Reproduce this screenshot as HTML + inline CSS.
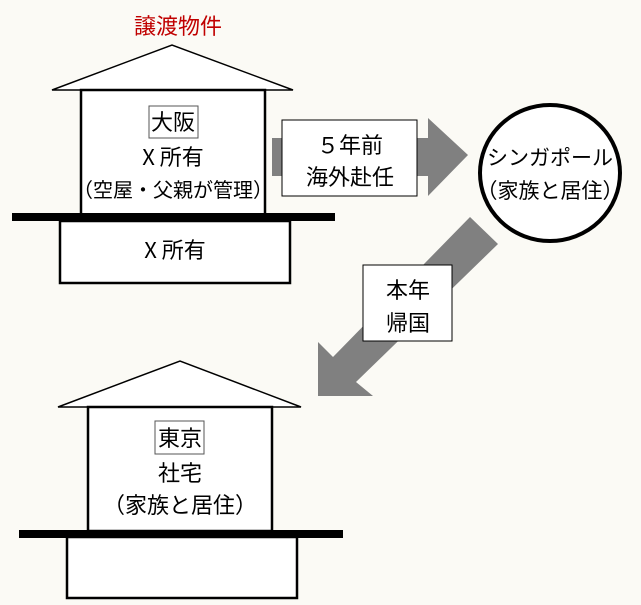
<!DOCTYPE html>
<html><head><meta charset="utf-8"><style>
html,body{margin:0;padding:0;background:#fbfaf5;}
svg{display:block;}
text{font-family:"Noto Sans CJK JP",sans-serif;font-size:21px;fill:#000;}
</style></head><body>
<svg width="641" height="605" viewBox="0 0 641 605">
<rect width="641" height="605" fill="#fbfaf5"/>
<text x="178" y="34" text-anchor="middle" style="fill:#c00000;font-size:22px">譲渡物件</text>
<!-- top house -->
<polygon points="52,90 172,45 293,90" fill="#fff" stroke="#000" stroke-width="1.5"/>
<rect x="81" y="90" width="184" height="125" fill="#fff" stroke="#000" stroke-width="2.5"/>
<rect x="60" y="221" width="230" height="62" fill="#fff" stroke="#000" stroke-width="2.5"/>
<rect x="12" y="213" width="323" height="8" fill="#000"/>
<rect x="149" y="106" width="49" height="32" fill="#fff" stroke="#555" stroke-width="1"/>
<text x="173" y="130" text-anchor="middle" style="font-size:22px">大阪</text>
<text x="173" y="165" text-anchor="middle" style="font-size:22px">X 所有</text>
<text x="173" y="197" text-anchor="middle" style="font-size:20px">（空屋・父親が管理）</text>
<text x="175" y="258" text-anchor="middle" style="font-size:22px">X 所有</text>
<!-- right arrow -->
<polygon points="272,138 428,138 428,118 468,155 428,196 428,176 272,176" fill="#808080"/>
<rect x="282" y="120" width="135" height="76" fill="#fff" stroke="#000" stroke-width="1"/>
<text x="350" y="153" text-anchor="middle" style="font-size:22px">５年前</text>
<text x="350" y="185" text-anchor="middle" style="font-size:22px">海外赴任</text>
<!-- circle -->
<ellipse cx="550" cy="173" rx="70" ry="68" fill="#fff" stroke="#000" stroke-width="4"/>
<text x="550" y="165" text-anchor="middle">シンガポール</text>
<text x="550" y="198" text-anchor="middle">（家族と居住）</text>
<!-- diagonal arrow -->
<polygon points="470,217 498,244 356,382 373,396 318,396 318,342 333,357" fill="#808080"/>
<rect x="363" y="265" width="89" height="76" fill="#fff" stroke="#000" stroke-width="1"/>
<text x="408" y="298" text-anchor="middle" style="font-size:22px">本年</text>
<text x="408" y="331" text-anchor="middle" style="font-size:22px">帰国</text>
<!-- bottom house -->
<polygon points="58,407 180,361 301,407" fill="#fff" stroke="#000" stroke-width="1.5"/>
<rect x="88" y="407" width="184" height="124" fill="#fff" stroke="#000" stroke-width="2.5"/>
<rect x="67" y="537" width="230" height="61" fill="#fff" stroke="#000" stroke-width="2.5"/>
<rect x="19" y="530" width="324" height="8" fill="#000"/>
<rect x="155" y="421" width="49" height="33" fill="#fff" stroke="#555" stroke-width="1"/>
<text x="180" y="446" text-anchor="middle" style="font-size:22px">東京</text>
<text x="180" y="481" text-anchor="middle" style="font-size:22px">社宅</text>
<text x="180" y="513" text-anchor="middle" style="font-size:22px">（家族と居住）</text>
</svg>
</body></html>
